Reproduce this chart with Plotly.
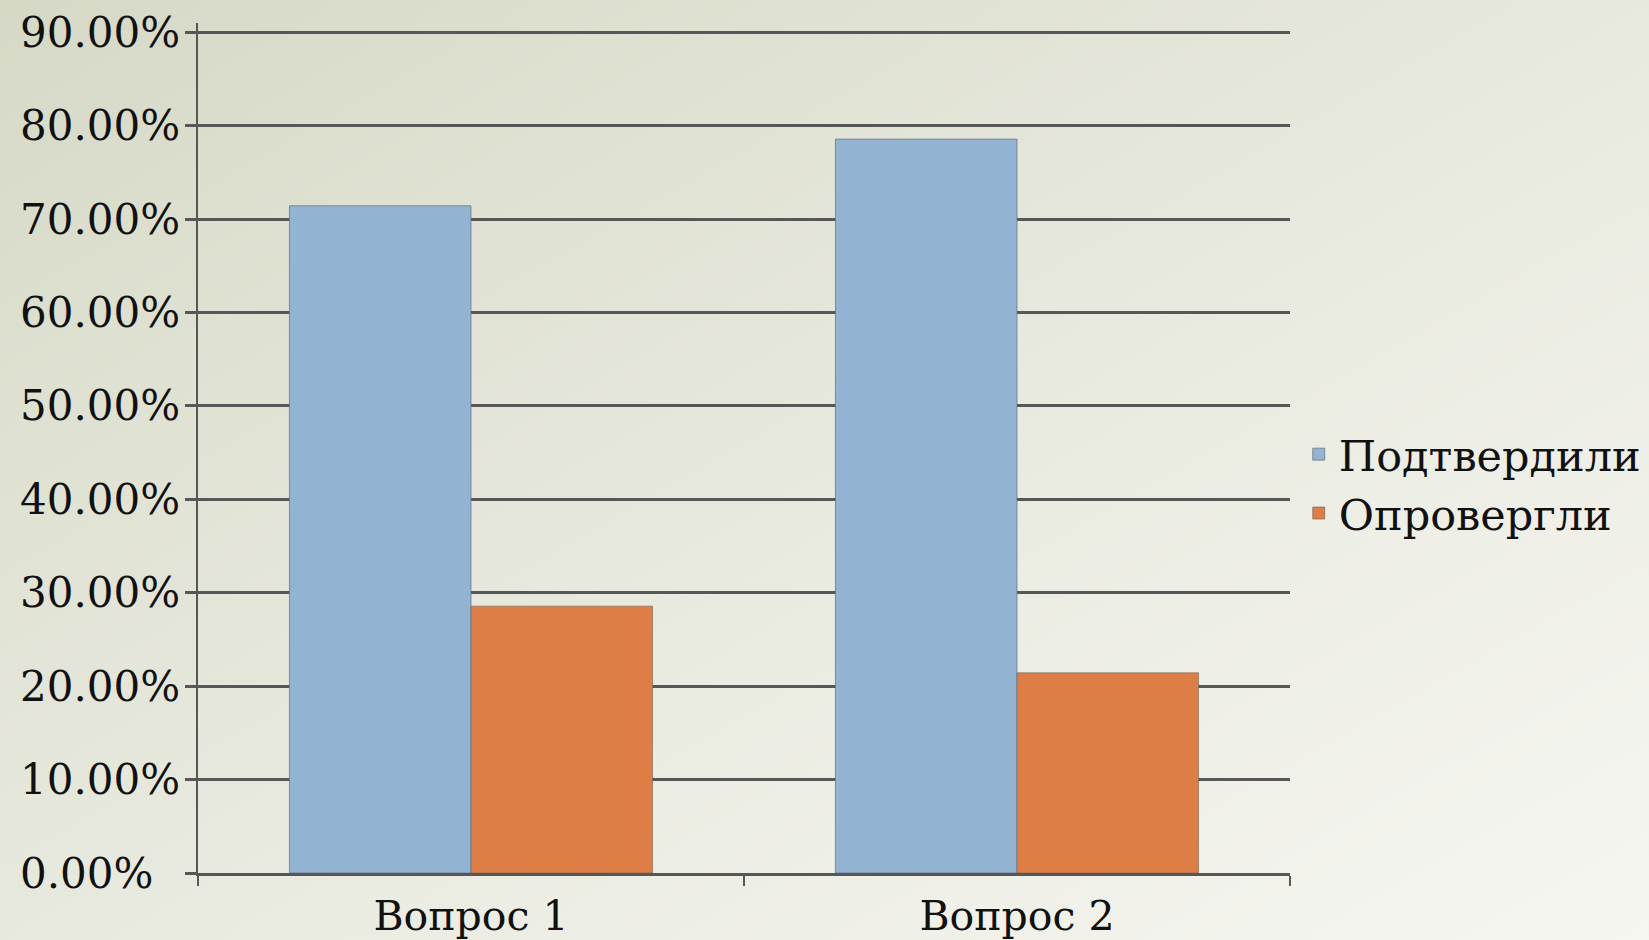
import base64
import plotly.graph_objects as go

categories = ["Вопрос 1", "Вопрос 2"]
series_names = ["Подтвердили", "Опровергли"]
confirmed = [0.7143, 0.7857]
refuted = [0.2857, 0.2143]
y_ticks = [0, 0.1, 0.2, 0.3, 0.4, 0.5, 0.6, 0.7, 0.8, 0.9]
y_tick_labels = [f"{v * 100:.2f}%" for v in y_ticks]

W, H = 1649, 940
L, R, T, B = 198, 359, 23, 67
pw, ph = W - L - R, H - T - B

svg = (
    '<svg xmlns="http://www.w3.org/2000/svg" width="1649" height="940" preserveAspectRatio="none">'
    '<defs><linearGradient id="g" x1="0" y1="0" x2="1" y2="1">'
    '<stop offset="0" stop-color="#d6d9c6"/>'
    '<stop offset="0.5" stop-color="#e8e9de"/>'
    '<stop offset="1" stop-color="#f6f6f1"/>'
    '</linearGradient></defs>'
    '<rect width="1649" height="940" fill="url(#g)"/></svg>'
)
bg_src = "data:image/svg+xml;base64," + base64.b64encode(svg.encode()).decode()

font_family = "DejaVu Serif, Liberation Serif, serif"
grid_color = "#575757"
text_color = "#111111"

fig = go.Figure()
fig.add_trace(go.Bar(
    x=categories, y=confirmed, name=series_names[0],
    marker=dict(color="#93b3d3", line=dict(color="rgba(100,110,120,0.7)", width=1)),
))
fig.add_trace(go.Bar(
    x=categories, y=refuted, name=series_names[1],
    marker=dict(color="#dc7e45", line=dict(color="rgba(110,100,90,0.6)", width=1)),
))

# left-aligned y tick labels (as in the reference)
annotations = [
    dict(
        x=-(L - 18) / pw, xref="paper", y=v, yref="y",
        text=lab, showarrow=False, xanchor="left", yanchor="middle",
        font=dict(family=font_family, size=42, color=text_color),
    )
    for v, lab in zip(y_ticks, y_tick_labels)
]

fig.update_layout(
    width=W, height=H,
    margin=dict(l=L, r=R, t=T, b=B, autoexpand=False),
    paper_bgcolor="#e8e9de",
    plot_bgcolor="rgba(0,0,0,0)",
    barmode="group",
    bargap=0.335,
    bargroupgap=0,
    font=dict(family=font_family, color=text_color, size=40),
    showlegend=True,
    legend=dict(
        x=1.008, y=0.458, xanchor="left", yanchor="middle",
        bgcolor="rgba(0,0,0,0)",
        font=dict(family=font_family, size=43, color=text_color),
        tracegroupgap=0,
    ),
    annotations=annotations,
    images=[dict(
        source=bg_src, xref="paper", yref="paper",
        x=-L / pw, y=1 + T / ph, sizex=W / pw, sizey=H / ph,
        xanchor="left", yanchor="top", sizing="stretch", layer="below",
    )],
    xaxis=dict(
        automargin=False,
        showgrid=False, showline=True, linecolor=grid_color, linewidth=2.5,
        ticks="outside", tickson="boundaries", ticklen=10, tickcolor=grid_color, tickwidth=2,
        ticklabelstandoff=5,
        tickfont=dict(family=font_family, size=41, color=text_color),
    ),
    yaxis=dict(
        automargin=False,
        range=[0, 0.91], tickvals=y_ticks, showticklabels=False,
        showgrid=True, gridcolor=grid_color, gridwidth=2.5,
        showline=True, linecolor=grid_color, linewidth=2,
        zeroline=False,
        ticks="outside", ticklen=11, tickcolor=grid_color, tickwidth=2.5,
    ),
)

post = (
    "document.documentElement.style.margin='0';"
    "document.documentElement.style.overflow='hidden';"
    "document.body.style.margin='0';"
    "document.body.style.overflow='hidden';"
    "var gd=document.getElementsByClassName('plotly-graph-div')[0];"
    "gd.style.position='fixed';gd.style.left='0px';gd.style.top='0px';"
)

fig.write_html("out.html", config={"displayModeBar": False}, post_script=post)
